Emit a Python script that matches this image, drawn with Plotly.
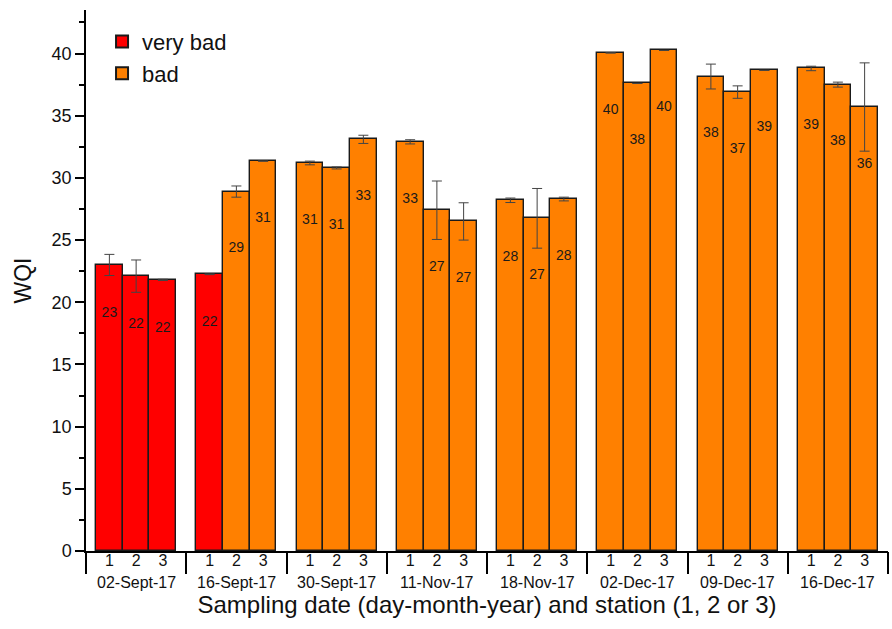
import plotly.graph_objects as go

# ---- data ----
dates = ["02-Sept-17", "16-Sept-17", "30-Sept-17", "11-Nov-17",
         "18-Nov-17", "02-Dec-17", "09-Dec-17", "16-Dec-17"]
stations = ["1", "2", "3"]
wqi = [23.0, 22.1, 21.8,
       22.25, 28.9, 31.35,
       31.2, 30.8, 33.1,
       32.9, 27.4, 26.5,
       28.2, 26.75, 28.3,
       40.05, 37.6, 40.25,
       38.15, 36.9, 38.65,
       38.8, 37.5, 35.7]
wqi_err = [0.85, 1.3, 0.05,
           0.03, 0.45, 0.0,
           0.15, 0.08, 0.33,
           0.17, 2.35, 1.5,
           0.18, 2.4, 0.15,
           0.0, 0.0, 0.0,
           1.0, 0.5, 0.0,
           0.18, 0.2, 3.55]
labels = ["23", "22", "22",
          "22", "29", "31",
          "31", "31", "33",
          "33", "27", "27",
          "28", "27", "28",
          "40", "38", "40",
          "38", "37", "39",
          "39", "38", "36"]
quality = ["very bad", "very bad", "very bad",
           "very bad", "bad", "bad",
           "bad", "bad", "bad",
           "bad", "bad", "bad",
           "bad", "bad", "bad",
           "bad", "bad", "bad",
           "bad", "bad", "bad",
           "bad", "bad", "bad"]
y_ticks = [0, 5, 10, 15, 20, 25, 30, 35, 40]

# ---- styling ----
colors = {"very bad": "#FF0000", "bad": "#FF8000"}
label_drop = {"very bad": 3.9, "bad": 4.6}
FONT = "Liberation Sans, Arial, sans-serif"
group_margin = 0.1
bar_w = (1 - 2 * group_margin) / len(stations)

# bar centre positions on a numeric axis (each date group spans one unit)
xpos, xtick_text = [], []
for g, d in enumerate(dates):
    for s, st in enumerate(stations):
        xpos.append(g + group_margin + bar_w * (s + 0.5))
        xtick_text.append(st)

fig = go.Figure()
for q in ["very bad", "bad"]:
    idx = [i for i, v in enumerate(quality) if v == q]
    fig.add_trace(go.Bar(
        x=[xpos[i] for i in idx], y=[wqi[i] for i in idx],
        width=bar_w, name=q,
        marker=dict(color=colors[q], line=dict(color="#1a1a1a", width=1.4)),
        error_y=dict(type="data", array=[wqi_err[i] for i in idx],
                     color="#444444", thickness=1, width=5),
    ))

fig.add_trace(go.Scatter(
    x=xpos, y=[wqi[i] - label_drop[quality[i]] for i in range(len(wqi))],
    text=labels, mode="text", showlegend=False, hoverinfo="skip",
    textfont=dict(size=14, color="#1a1a1a", family=FONT),
    xaxis="x2", yaxis="y",
))

for g, d in enumerate(dates):
    fig.add_annotation(x=g + 0.5, y=0, xref="x", yref="paper", text=d,
                       showarrow=False, yshift=-31, yanchor="middle",
                       font=dict(size=16, color="#111", family=FONT))

fig.update_layout(
    width=892, height=629,
    margin=dict(l=86, r=4, t=10, b=78),
    paper_bgcolor="white", plot_bgcolor="white",
    font=dict(family=FONT, color="#111"),
    bargap=0,
    legend=dict(x=0.02, y=0.98, xanchor="left", yanchor="top",
                font=dict(size=22, family=FONT), bgcolor="rgba(0,0,0,0)",
                itemsizing="constant"),
    xaxis=dict(range=[0, len(dates)], tickvals=xpos, ticktext=xtick_text,
               ticks="", showgrid=False, zeroline=False, automargin=False,
               showline=True, linecolor="black", linewidth=1.5,
               ticklabelstandoff=-6,
               tickfont=dict(size=16, family=FONT, color="#111"),
               title=dict(text="Sampling date (day-month-year) and station (1, 2 or 3)",
                          font=dict(size=24, family=FONT, color="#111"), standoff=28)),
    xaxis2=dict(overlaying="x", matches="x", side="bottom", anchor="y",
                tickvals=list(range(len(dates) + 1)), showticklabels=False,
                ticks="outside", ticklen=22, tickwidth=1.5, tickcolor="black",
                showgrid=False, zeroline=False, showline=False, automargin=False),
    yaxis=dict(range=[0, 43.5], tickvals=y_ticks, ticks="outside",
               ticklen=9, tickwidth=1.5, tickcolor="black", automargin=False,
               minor=dict(dtick=2.5, tick0=0, ticks="outside", ticklen=5,
                          tickwidth=1.5, tickcolor="black"),
               showgrid=False, zeroline=False,
               showline=True, linecolor="black", linewidth=1.5,
               tickfont=dict(size=18, family=FONT, color="#111"),
               title=dict(text="WQI", font=dict(size=23, family=FONT, color="#111"),
                          standoff=14)),
)

fig.write_html("out.html", config={"displayModeBar": False},
               post_script="document.body.style.margin='0';document.body.style.overflow='hidden';")
